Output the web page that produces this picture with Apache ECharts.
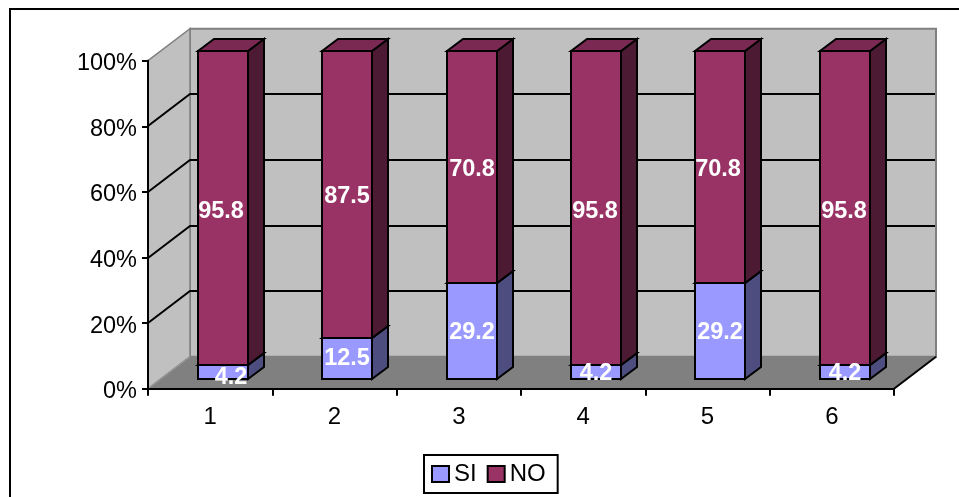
<!DOCTYPE html>
<html>
<head>
<meta charset="utf-8">
<style>html,body{margin:0;padding:0;background:#fff}#c{width:959px;height:497px}</style>
<script src="https://cdn.jsdelivr.net/npm/echarts@6/dist/echarts.min.js"></script>
</head>
<body>
<div id="c"></div>
<script>
const categories = ['1', '2', '3', '4', '5', '6'];
const siValues = [4.2, 12.5, 29.2, 4.2, 29.2, 4.2];
const noValues = [95.8, 87.5, 70.8, 95.8, 70.8, 95.8];
const yTicks = [0, 20, 40, 60, 80, 100];

// Projection of the fake 3D box, in pixels
const WALL = [42, -32];
const PLANE = [12.7, -9.5];
const DEPTH = [16, -12];
const BAR_W = 50;
const LW = 2;
const FONT = '"Liberation Sans", Arial, sans-serif';
// hand nudges for individual data labels: series index -> per-category [dx, dy]
const labelNudge = {
  SI: [[8, 6], [0, 0], [0, 2], [0, 2], [0, 2], [0, 2]],
  NO: [[-2, 4], [0, 2], [0, 3], [-1, 4], [-2, 3], [-1, 4]]
};

function renderWalls(params, api) {
  const band = api.size([1, 0])[0];
  const first = api.coord([0, 0]);
  const left = first[0] - band / 2;
  const right = left + band * categories.length;
  const y0 = api.coord([0, 0])[1];
  const y100 = api.coord([0, 100])[1];
  const [dx, dy] = WALL;
  const kids = [];
  kids.push({ type: 'polygon', shape: { points: [[left + dx, y100 + dy], [right + dx, y100 + dy], [right + dx, y0 + dy], [left + dx, y0 + dy]] }, style: { fill: '#c0c0c0', stroke: '#808080', lineWidth: LW } });
  kids.push({ type: 'polygon', shape: { points: [[left, y100], [left + dx, y100 + dy], [left + dx, y0 + dy], [left, y0]] }, style: { fill: '#c0c0c0', stroke: '#808080', lineWidth: 1.5 } });
  yTicks.forEach(t => {
    if (t === 0 || t === 100) return;
    const y = Math.round(api.coord([0, t])[1]);
    kids.push({ type: 'polyline', shape: { points: [[left, y], [left + dx, y + dy], [right + dx - 1, y + dy]] }, style: { fill: null, stroke: '#000', lineWidth: LW } });
  });
  kids.push({ type: 'polygon', shape: { points: [[left, y0], [right, y0], [right + dx, y0 + dy], [left + dx, y0 + dy]] }, style: { fill: '#808080', stroke: null } });
  kids.push({ type: 'line', shape: { x1: right, y1: y0, x2: right + dx, y2: y0 + dy }, style: { stroke: '#000', lineWidth: LW } });
  kids.push({ type: 'line', shape: { x1: left, y1: y0, x2: left + dx, y2: y0 + dy }, style: { stroke: '#a0a0a0', lineWidth: 1 } });
  return { type: 'group', children: kids };
}

function barRenderer(front, top, side, key) {
  return function (params, api) {
    const i = api.value(0);
    const base = api.coord([i, api.value(1)]);
    const head = api.coord([i, api.value(2)]);
    const x0 = Math.round(base[0] + PLANE[0] - BAR_W / 2);
    const x1 = x0 + BAR_W;
    const yb = Math.round(base[1] + PLANE[1]);
    const yt = Math.round(head[1] + PLANE[1]);
    const [dx, dy] = DEPTH;
    const stroke = { stroke: '#000', lineWidth: LW, lineJoin: 'miter' };
    const nudge = labelNudge[key][i];
    return {
      type: 'group',
      children: [
        { type: 'polygon', shape: { points: [[x1, yb], [x1 + dx, yb + dy], [x1 + dx, yt + dy], [x1, yt]] }, style: Object.assign({ fill: side }, stroke) },
        { type: 'polygon', shape: { points: [[x0, yt], [x0 + dx, yt + dy], [x1 + dx, yt + dy], [x1, yt]] }, style: Object.assign({ fill: top }, stroke) },
        { type: 'rect', shape: { x: x0, y: yt, width: BAR_W, height: yb - yt }, style: Object.assign({ fill: front }, stroke) },
        { type: 'text', z2: 10, style: { x: (x0 + x1) / 2 + nudge[0], y: (yb + yt) / 2 + nudge[1], text: api.value(3).toFixed(1), fill: '#fff', font: 'bold 23.5px ' + FONT, align: 'center', verticalAlign: 'middle' } }
      ]
    };
  };
}

function stackedRows(values, bases) {
  return values.map((v, i) => [i, bases ? bases[i] : 0, (bases ? bases[i] : 0) + v, v]);
}

const chart = echarts.init(document.getElementById('c'), null, { renderer: 'canvas' });
chart.setOption({
  animation: false,
  backgroundColor: '#fff',
  grid: { left: 148, top: 60.7, width: 746, height: 328, containLabel: false },
  xAxis: {
    type: 'category', data: categories, z: 5,
    axisLine: { show: true, lineStyle: { color: '#000', width: 2 } },
    axisTick: { show: true, alignWithLabel: false, length: 7, lineStyle: { color: '#000', width: 2 } },
    axisLabel: { color: '#000', fontFamily: 'Liberation Sans', fontSize: 24, margin: 17, interval: 0 },
    splitLine: { show: false }
  },
  yAxis: {
    type: 'value', min: 0, max: 100, interval: 20, z: 5,
    axisLine: { show: true, lineStyle: { color: '#000', width: 2 } },
    axisTick: { show: true, length: 6, lineStyle: { color: '#000', width: 2 } },
    axisLabel: { color: '#000', fontFamily: 'Liberation Sans', fontSize: 23.5, margin: 11, verticalAlign: 'top', lineHeight: 6, formatter: '{value}%' },
    splitLine: { show: false }
  },
  legend: {
    data: ['SI', 'NO'], left: 424, top: 455, orient: 'horizontal',
    backgroundColor: '#fff', borderColor: '#000', borderWidth: 2, borderRadius: 0,
    padding: [7, 12, 7, 7], itemGap: 10, itemWidth: 17, itemHeight: 16,
    icon: 'rect', selectedMode: false,
    itemStyle: { borderColor: '#000', borderWidth: 2 },
    textStyle: { color: '#000', fontFamily: 'Liberation Sans', fontSize: 24, padding: [2, 0, 0, 0] }
  },
  graphic: [
    { type: 'polyline', silent: true, shape: { points: [[10, 497], [10, 9], [959, 9]] }, style: { fill: null, stroke: '#000', lineWidth: 2 }, z: 0 }
  ],
  series: [
    { type: 'custom', name: 'walls', z: 1, silent: true, clip: false, renderItem: renderWalls, data: [[0]], encode: { x: 0, y: null } },
    { type: 'custom', name: 'SI', z: 3, clip: false, itemStyle: { color: '#9999ff' }, renderItem: barRenderer('#9999ff', '#7a7acc', '#4d4d80', 'SI'), data: stackedRows(siValues), encode: { x: 0, y: [1, 2] } },
    { type: 'custom', name: 'NO', z: 3, clip: false, itemStyle: { color: '#993366' }, renderItem: barRenderer('#993366', '#7a2952', '#4d1a33', 'NO'), data: stackedRows(noValues, siValues), encode: { x: 0, y: [1, 2] } }
  ]
});
</script>
</body>
</html>
